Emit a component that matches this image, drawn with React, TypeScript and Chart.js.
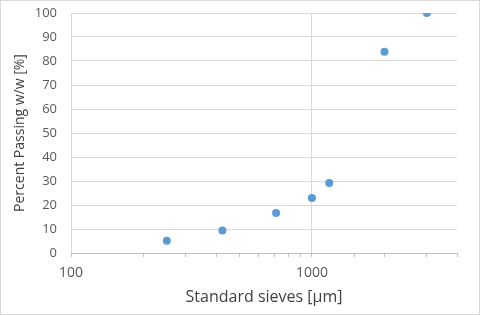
import React, { useEffect, useRef } from "react";
import { Chart, registerables } from "chart.js";

Chart.register(...registerables);

const sieveSizes = [250, 425, 710, 1000, 1180, 2000, 3000];
const percentPassing = [5.1, 9.4, 16.7, 22.9, 29.2, 83.9, 100];
const xTitle = "Standard sieves [μm]";
const yTitle = "Percent Passing w/w [%]";
const xMin = 100;
const xMax = 4000;
const yMin = 0;
const yMax = 100;
const yStep = 10;

const FONT = "'Open Sans', 'Liberation Sans', sans-serif";
const TEXT = "#595959";
const GRID = "#d9d9d9";

const isPow10 = (v: number) => Math.abs(Math.log10(v) - Math.round(Math.log10(v))) < 1e-9;

export default function App() {
  const ref = useRef<HTMLCanvasElement | null>(null);
  useEffect(() => {
    document.body.style.margin = "0";
    const canvas = ref.current!;
    const borderPlugin = {
      id: "bgBorder",
      beforeDraw(chart: any) {
        const c = chart.ctx;
        c.save();
        c.fillStyle = "#ffffff";
        c.fillRect(0, 0, chart.width, chart.height);
        c.strokeStyle = GRID;
        c.lineWidth = 1;
        c.strokeRect(0.5, 0.5, chart.width - 1, chart.height - 1);
        c.restore();
      },
    };
    const chart = new Chart(canvas, {
      type: "scatter",
      data: {
        datasets: [
          {
            data: sieveSizes.map((x, i) => ({ x, y: percentPassing[i] })),
            backgroundColor: "#5b9bd5",
            borderColor: "#5b9bd5",
            pointRadius: 4,
            pointHoverRadius: 4,
            borderWidth: 0,
          },
        ],
      },
      options: {
        animation: false,
        responsive: false,
        maintainAspectRatio: false,
        devicePixelRatio: 1,
        layout: { padding: { left: 0, right: 23, top: 13, bottom: 0 } },
        plugins: { legend: { display: false }, tooltip: { enabled: false } },
        scales: {
          x: {
            type: "logarithmic",
            min: xMin,
            max: xMax,
            afterFit: (s: any) => {
              s.height = 62;
              s.paddingLeft = 0;
              s.paddingRight = 0;
            },
            border: { display: true, color: "#bfbfbf", width: 1 },
            grid: {
              drawOnChartArea: true,
              drawTicks: true,
              tickLength: 4,
              tickColor: "#bfbfbf",
              color: (ctx: any) =>
                ctx.tick && isPow10(ctx.tick.value) ? GRID : "rgba(0,0,0,0)",
            },
            ticks: {
              autoSkip: false,
              maxRotation: 0,
              padding: 8,
              color: TEXT,
              font: { family: FONT, size: 14 },
              callback: (v: any) => (isPow10(Number(v)) ? String(v) : ""),
            },
            title: {
              display: true,
              text: xTitle,
              color: "#404040",
              font: { family: FONT, size: 16 },
              padding: { top: 0, bottom: 8 },
            },
          },
          y: {
            min: yMin,
            max: yMax,
            afterFit: (s: any) => {
              s.width = 71;
              s.paddingTop = 0;
              s.paddingBottom = 0;
            },
            border: { display: false },
            grid: { color: GRID, drawTicks: false },
            ticks: {
              stepSize: yStep,
              padding: 14,
              color: TEXT,
              font: { family: FONT, size: 13 },
            },
            title: {
              display: true,
              text: yTitle,
              color: "#404040",
              font: { family: FONT, size: 14 },
              padding: { top: 12, bottom: 0 },
            },
          },
        },
      },
      plugins: [borderPlugin],
    });
    return () => chart.destroy();
  }, []);
  return (
    <div style={{ width: 480, height: 315 }}>
      <canvas ref={ref} width={480} height={315} style={{ display: "block", width: 480, height: 315 }} />
    </div>
  );
}
